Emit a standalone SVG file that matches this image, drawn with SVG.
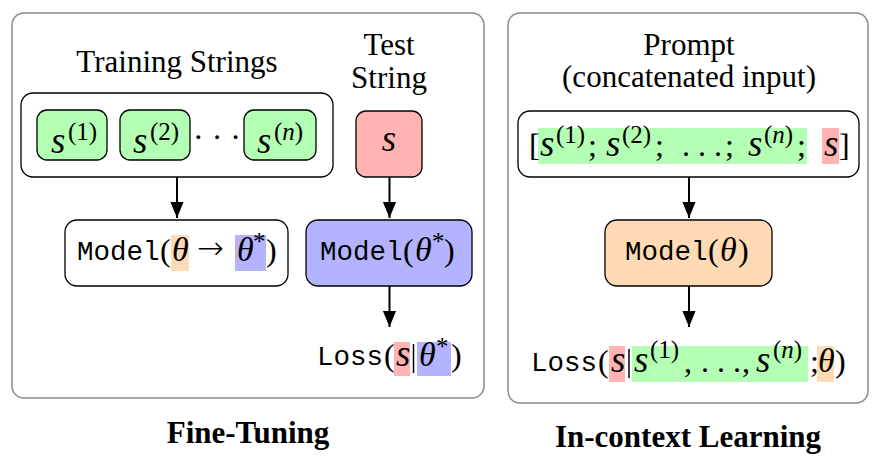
<svg xmlns="http://www.w3.org/2000/svg" width="881" height="467" viewBox="0 0 881 467">
<style>
.panel{fill:#fff;stroke:#8a8a8a;stroke-width:1.5}
.box{stroke:#000;stroke-width:1.3}
.w{fill:#fff}.g{fill:#b3ffb3}.r{fill:#ffb3b3}.b{fill:#b3b3ff}.o{fill:#ffdab3}
.t{font-family:"Liberation Serif","DejaVu Serif",serif;font-size:31px;fill:#000}
.m{font-family:"Liberation Serif","DejaVu Serif",serif;font-style:italic;font-size:34px;fill:#000}
.s{font-family:"Liberation Serif","DejaVu Serif",serif;font-style:italic;font-size:37px;fill:#000}
.rm{font-family:"Liberation Serif","DejaVu Serif",serif;font-size:32px;fill:#000}
.ar{font-family:"DejaVu Sans",sans-serif;font-weight:200;font-size:32px;fill:#000}
.sup{font-family:"Liberation Serif","DejaVu Serif",serif;font-size:25px;fill:#000}
.tt{font-family:"Liberation Mono","DejaVu Sans Mono",monospace;font-size:27.5px;fill:#000}
.title{font-family:"Liberation Serif","DejaVu Serif",serif;font-weight:bold;font-size:31px;fill:#000}
.arr{stroke:#000;stroke-width:2;fill:none;marker-end:url(#ah)}
</style>
<defs>
<marker id="ah" markerUnits="userSpaceOnUse" markerWidth="16" markerHeight="16" refX="17" refY="7" orient="auto" viewBox="0 0 17 14">
<path d="M0,0 L17,7 L0,14 z" fill="#000"/>
</marker>
</defs>
<rect x="0" y="0" width="881" height="467" fill="#fff"/>

<g id="panel-finetuning">
<rect class="panel" x="12" y="13" width="472" height="385" rx="12"/>
<text class="title" x="248" y="443" text-anchor="middle">Fine-Tuning</text>
</g>

<g id="panel-icl">
<rect class="panel" x="508" y="13" width="360" height="390" rx="12"/>
<text class="title" x="688" y="447" text-anchor="middle">In-context Learning</text>
</g>

<g id="training-strings">
<text class="t" x="177" y="72" text-anchor="middle">Training Strings</text>
<rect class="box w" x="21" y="93" width="312" height="84" rx="12"/>
<rect class="box g" x="37" y="110" width="70" height="50" rx="10"/>
<text class="s" x="51" y="153">s</text><text class="sup" x="68" y="140">(1)</text>
<rect class="box g" x="120" y="110" width="70" height="50" rx="10"/>
<text class="s" x="133" y="153">s</text><text class="sup" x="150" y="140">(2)</text>
<text class="rm" x="217" y="148" text-anchor="middle">· · ·</text>
<rect class="box g" x="244" y="110" width="72" height="50" rx="10"/>
<text class="s" x="257" y="153">s</text><text class="sup" x="274" y="140">(<tspan font-style="italic">n</tspan>)</text>
</g>

<g id="test-string">
<text class="t" x="389" y="55" text-anchor="middle">Test</text>
<text class="t" x="389" y="88" text-anchor="middle">String</text>
<rect class="box r" x="356" y="111" width="66" height="66" rx="10"/>
<text class="s" x="389" y="151" text-anchor="middle">s</text>
</g>

<g id="model-finetune">
<rect class="box w" x="65" y="220" width="223" height="66" rx="12"/>
<rect class="o" x="171" y="235" width="18" height="36"/>
<rect class="b" x="235" y="235" width="31" height="36"/>
<text class="tt" x="77" y="260">Model</text>
<text class="rm" x="160" y="261">(</text>
<text class="m" x="172" y="261">θ</text>
<text class="ar" x="197" y="259">→</text>
<text class="m" x="237" y="261">θ</text>
<text class="sup" x="253" y="250">*</text>
<text class="rm" x="266" y="261">)</text>
</g>

<g id="model-theta-star">
<rect class="box b" x="306" y="220" width="166" height="66" rx="12"/>
<text class="tt" x="320" y="260">Model</text>
<text class="rm" x="403" y="261">(</text>
<text class="m" x="415" y="261">θ</text>
<text class="sup" x="432" y="250">*</text>
<text class="rm" x="444" y="261">)</text>
</g>

<g id="loss-finetune">
<rect class="r" x="394" y="342" width="16" height="34"/>
<rect class="b" x="417" y="342" width="34" height="34"/>
<text class="tt" x="317" y="365">Loss</text>
<text class="rm" x="384" y="366">(</text>
<text class="s" x="396" y="366">s</text>
<line x1="413.5" y1="344" x2="413.5" y2="373" stroke="#000" stroke-width="1.5"/>
<text class="m" x="419" y="366">θ</text>
<text class="sup" x="436" y="355">*</text>
<text class="rm" x="451" y="366">)</text>
</g>

<g id="prompt">
<text class="t" x="689" y="55" text-anchor="middle">Prompt</text>
<text class="t" x="689" y="87" text-anchor="middle">(concatenated input)</text>
<rect class="box w" x="518" y="111" width="341" height="66" rx="12"/>
<rect class="g" x="538" y="128" width="269" height="36"/>
<rect class="r" x="822" y="128" width="17" height="36"/>
<text class="rm" x="529" y="156">[</text>
<text class="s" x="540" y="156">s</text><text class="sup" x="556" y="143">(1)</text><text class="rm" x="588" y="156">;</text>
<text class="s" x="606" y="156">s</text><text class="sup" x="622" y="143">(2)</text><text class="rm" x="655" y="156">;</text>
<text class="rm" x="682" y="156">. . .</text><text class="rm" x="725" y="156">;</text>
<text class="s" x="748" y="156">s</text><text class="sup" x="764" y="143">(<tspan font-style="italic">n</tspan>)</text><text class="rm" x="797" y="156">;</text>
<text class="s" x="824" y="156">s</text>
<text class="rm" x="839" y="156">]</text>
</g>

<g id="model-icl">
<rect class="box o" x="605" y="220" width="167" height="66" rx="12"/>
<text class="tt" x="625" y="260">Model</text>
<text class="rm" x="708" y="261">(</text>
<text class="m" x="720" y="261">θ</text>
<text class="rm" x="738" y="261">)</text>
</g>

<g id="loss-icl">
<rect class="r" x="609" y="346" width="16" height="36"/>
<rect class="g" x="632" y="346" width="176" height="36"/>
<rect class="o" x="817" y="346" width="17" height="36"/>
<text class="tt" x="531" y="371">Loss</text>
<text class="rm" x="598" y="372">(</text>
<text class="s" x="611" y="372">s</text>
<line x1="629" y1="349" x2="629" y2="378" stroke="#000" stroke-width="1.5"/>
<text class="s" x="634" y="372">s</text><text class="sup" x="650" y="358">(1)</text>
<text class="rm" x="684" y="372">,</text>
<text class="rm" x="701" y="372">. . .</text>
<text class="rm" x="742" y="372">,</text>
<text class="s" x="756" y="372">s</text><text class="sup" x="773" y="358">(<tspan font-style="italic">n</tspan>)</text>
<text class="rm" x="810" y="372">;</text>
<text class="m" x="818" y="372">θ</text>
<text class="rm" x="835" y="372">)</text>
</g>

<g id="connectors">
<line class="arr" x1="177" y1="177" x2="177" y2="218"/>
<line class="arr" x1="389.5" y1="177" x2="389.5" y2="218"/>
<line class="arr" x1="389.5" y1="286" x2="389.5" y2="327"/>
<line class="arr" x1="689" y1="177" x2="689" y2="218"/>
<line class="arr" x1="689" y1="286" x2="689" y2="327"/>
</g>
</svg>
